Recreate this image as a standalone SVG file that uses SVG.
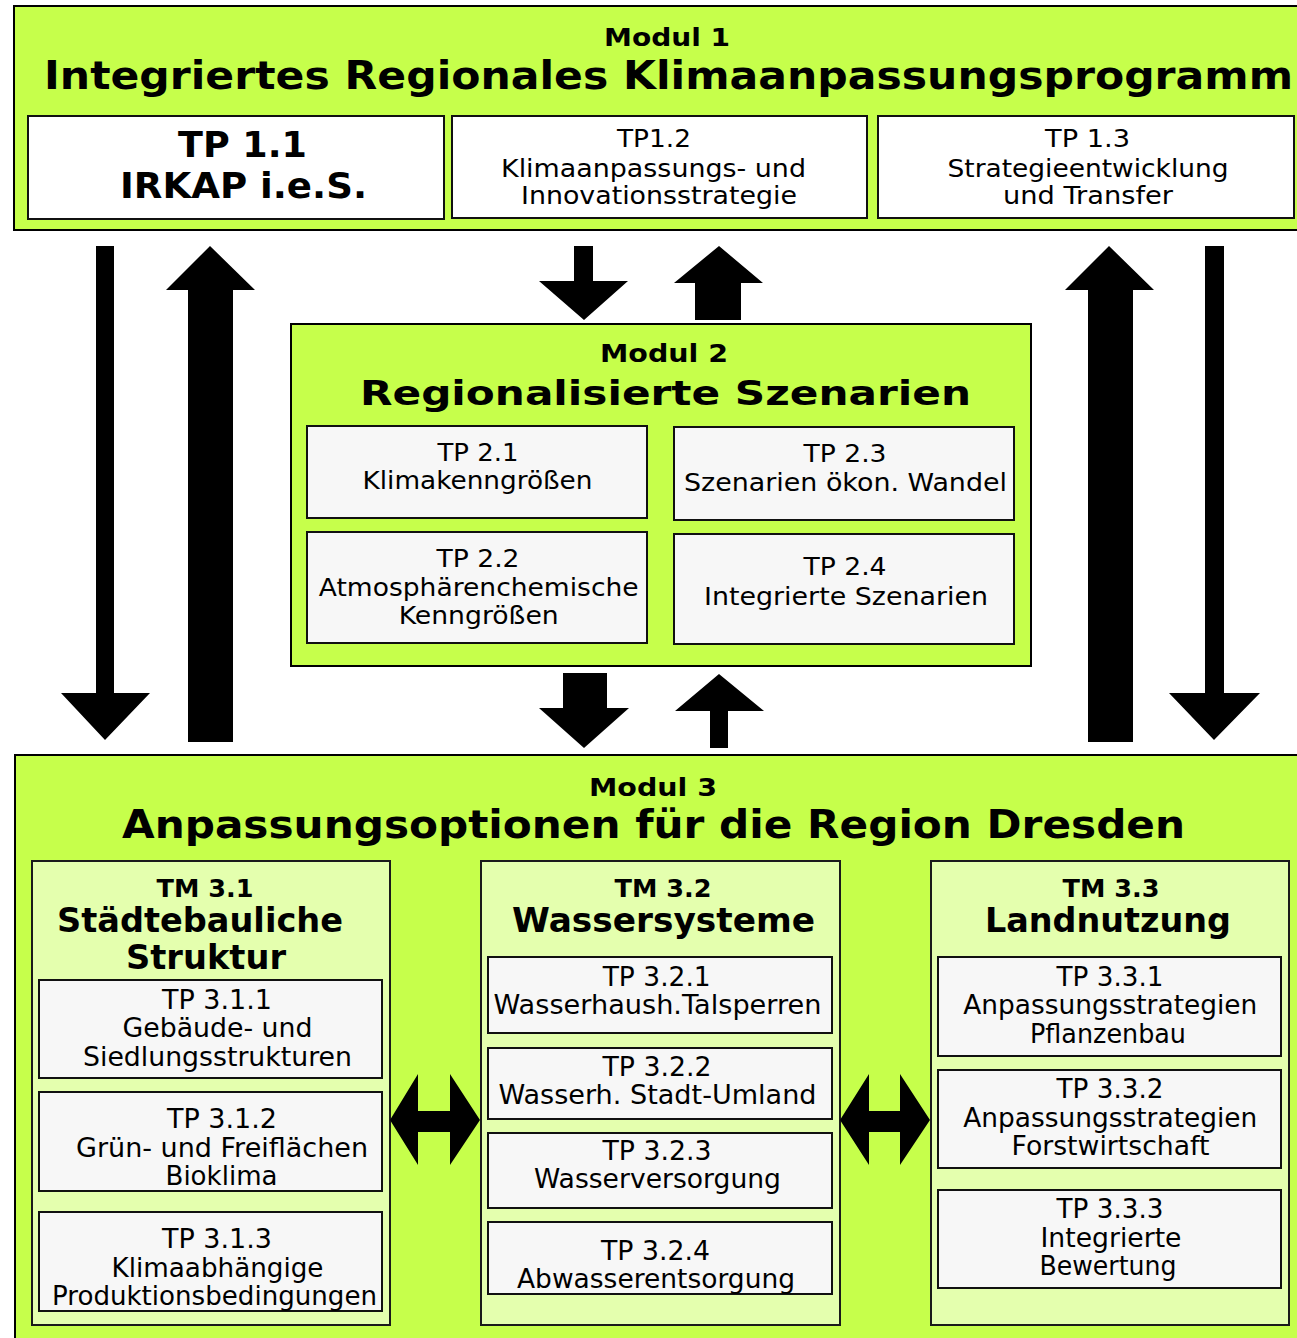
<svg xmlns="http://www.w3.org/2000/svg" width="1297" height="1338" viewBox="0 0 1297 1338">
<style>
.mod{fill:#C6FF4B;stroke:#000;stroke-width:2}
.tm{fill:#E4FFAE;stroke:#1a1a1a;stroke-width:2}
.tpw{fill:#FFFFFF;stroke:#111;stroke-width:2}
.tp{fill:#F7F7F7;stroke:#111;stroke-width:2}
.arr{fill:#000}
text{font-family:"DejaVu Sans","Liberation Sans",sans-serif;fill:#000;text-anchor:middle}
.h1{font-weight:bold;font-size:39px}
.h2{font-weight:bold;font-size:25px}
.hb{font-weight:bold;font-size:35px}
.hm{font-weight:bold;font-size:34px}
.hs{font-weight:bold;font-size:33px}
.t{font-size:25px}
.tc{font-size:26px}
.tn{font-size:24px}
</style>
<rect width="1297" height="1338" fill="#fff"/>

<g id="modul1">
<rect class="mod" x="14" y="6" width="1300" height="224"/>
<text class="h2" x="667" y="46" textLength="126" lengthAdjust="spacingAndGlyphs">Modul 1</text>
<text class="h1" x="668.5" y="89" textLength="1249" lengthAdjust="spacingAndGlyphs">Integriertes Regionales Klimaanpassungsprogramm</text>
</g>
<g id="tp11">
<rect class="tpw" x="28" y="116" width="416" height="103"/>
<text class="hb" x="242.5" y="157" textLength="129" lengthAdjust="spacingAndGlyphs">TP 1.1</text>
<text class="hb" x="243.5" y="198" textLength="247" lengthAdjust="spacingAndGlyphs">IRKAP i.e.S.</text>
</g>
<g id="tp12">
<rect class="tpw" x="452" y="116" width="415" height="102"/>
<text class="t" x="654" y="147" textLength="74" lengthAdjust="spacingAndGlyphs">TP1.2</text>
<text class="t" x="653.5" y="177" textLength="305" lengthAdjust="spacingAndGlyphs">Klimaanpassungs- und</text>
<text class="t" x="659" y="204" textLength="276" lengthAdjust="spacingAndGlyphs">Innovationsstrategie</text>
</g>
<g id="tp13">
<rect class="tpw" x="878" y="116" width="416" height="102"/>
<text class="t" x="1087.5" y="147" textLength="85" lengthAdjust="spacingAndGlyphs">TP 1.3</text>
<text class="t" x="1088" y="177" textLength="281" lengthAdjust="spacingAndGlyphs">Strategieentwicklung</text>
<text class="t" x="1088" y="204" textLength="170" lengthAdjust="spacingAndGlyphs">und Transfer</text>
</g>

<g id="modul2">
<rect class="mod" x="291" y="324" width="740" height="342"/>
<text class="h2" x="664" y="362" textLength="128" lengthAdjust="spacingAndGlyphs">Modul 2</text>
<text class="hm" x="665.5" y="405" textLength="611" lengthAdjust="spacingAndGlyphs">Regionalisierte Szenarien</text>
</g>
<g id="tp21">
<rect class="tp" x="307" y="426" width="340" height="92"/>
<text class="tn" x="478" y="461" textLength="81" lengthAdjust="spacingAndGlyphs">TP 2.1</text>
<text class="tn" x="477.5" y="489" textLength="230" lengthAdjust="spacingAndGlyphs">Klimakenngrößen</text>
</g>
<g id="tp23">
<rect class="tp" x="674" y="427" width="340" height="93"/>
<text class="tn" x="845" y="462" textLength="83" lengthAdjust="spacingAndGlyphs">TP 2.3</text>
<text class="tn" x="845.5" y="491" textLength="323" lengthAdjust="spacingAndGlyphs">Szenarien ökon. Wandel</text>
</g>
<g id="tp22">
<rect class="tp" x="307" y="532" width="340" height="111"/>
<text class="tn" x="478" y="567" textLength="83" lengthAdjust="spacingAndGlyphs">TP 2.2</text>
<text class="tn" x="478.7" y="596" textLength="320" lengthAdjust="spacingAndGlyphs">Atmosphärenchemische</text>
<text class="tn" x="478.7" y="624" textLength="160" lengthAdjust="spacingAndGlyphs">Kenngrößen</text>
</g>
<g id="tp24">
<rect class="tp" x="674" y="534" width="340" height="110"/>
<text class="tn" x="845" y="575" textLength="83" lengthAdjust="spacingAndGlyphs">TP 2.4</text>
<text class="tn" x="846" y="605" textLength="284" lengthAdjust="spacingAndGlyphs">Integrierte Szenarien</text>
</g>

<g id="modul3">
<rect class="mod" x="15" y="755" width="1300" height="600"/>
<text class="h2" x="653" y="796" textLength="128" lengthAdjust="spacingAndGlyphs">Modul 3</text>
<text class="h1" x="653.5" y="838" textLength="1063" lengthAdjust="spacingAndGlyphs">Anpassungsoptionen für die Region Dresden</text>
</g>

<g id="tm31">
<rect class="tm" x="32" y="861" width="358" height="464"/>
<text class="h2" x="205" y="897" textLength="97" lengthAdjust="spacingAndGlyphs">TM 3.1</text>
<text class="hs" x="200" y="932" textLength="286" lengthAdjust="spacingAndGlyphs">Städtebauliche</text>
<text class="hs" x="206" y="969" textLength="160" lengthAdjust="spacingAndGlyphs">Struktur</text>
</g>
<g id="tp311">
<rect class="tp" x="39" y="980" width="343" height="98"/>
<text class="tc" x="217" y="1009" textLength="110" lengthAdjust="spacingAndGlyphs">TP 3.1.1</text>
<text class="tc" x="217.5" y="1037" textLength="190" lengthAdjust="spacingAndGlyphs">Gebäude- und</text>
<text class="tc" x="217.5" y="1066" textLength="269" lengthAdjust="spacingAndGlyphs">Siedlungsstrukturen</text>
</g>
<g id="tp312">
<rect class="tp" x="39" y="1092" width="343" height="99"/>
<text class="tc" x="222" y="1128" textLength="110" lengthAdjust="spacingAndGlyphs">TP 3.1.2</text>
<text class="tc" x="222" y="1157" textLength="292" lengthAdjust="spacingAndGlyphs">Grün- und Freiflächen</text>
<text class="tc" x="221.5" y="1185" textLength="112" lengthAdjust="spacingAndGlyphs">Bioklima</text>
</g>
<g id="tp313">
<rect class="tp" x="39" y="1212" width="343" height="99"/>
<text class="tc" x="217" y="1248" textLength="110" lengthAdjust="spacingAndGlyphs">TP 3.1.3</text>
<text class="tc" x="217.5" y="1277" textLength="212" lengthAdjust="spacingAndGlyphs">Klimaabhängige</text>
<text class="tc" x="214.5" y="1305" textLength="325" lengthAdjust="spacingAndGlyphs">Produktionsbedingungen</text>
</g>

<g id="tm32">
<rect class="tm" x="481" y="861" width="359" height="464"/>
<text class="h2" x="663" y="897" textLength="97" lengthAdjust="spacingAndGlyphs">TM 3.2</text>
<text class="hs" x="663.5" y="932" textLength="303" lengthAdjust="spacingAndGlyphs">Wassersysteme</text>
</g>
<g id="tp321">
<rect class="tp" x="488" y="957" width="344" height="76"/>
<text class="tc" x="656.7" y="986" textLength="108" lengthAdjust="spacingAndGlyphs">TP 3.2.1</text>
<text class="tc" x="657.5" y="1014" textLength="328" lengthAdjust="spacingAndGlyphs">Wasserhaush.Talsperren</text>
</g>
<g id="tp322">
<rect class="tp" x="488" y="1048" width="344" height="71"/>
<text class="tc" x="657" y="1076" textLength="109" lengthAdjust="spacingAndGlyphs">TP 3.2.2</text>
<text class="tc" x="657.5" y="1104" textLength="318" lengthAdjust="spacingAndGlyphs">Wasserh. Stadt-Umland</text>
</g>
<g id="tp323">
<rect class="tp" x="488" y="1133" width="344" height="75"/>
<text class="tc" x="657" y="1160" textLength="109" lengthAdjust="spacingAndGlyphs">TP 3.2.3</text>
<text class="tc" x="657.5" y="1188" textLength="247" lengthAdjust="spacingAndGlyphs">Wasserversorgung</text>
</g>
<g id="tp324">
<rect class="tp" x="488" y="1222" width="344" height="72"/>
<text class="tc" x="655.5" y="1260" textLength="109" lengthAdjust="spacingAndGlyphs">TP 3.2.4</text>
<text class="tc" x="656" y="1288" textLength="278" lengthAdjust="spacingAndGlyphs">Abwasserentsorgung</text>
</g>

<g id="tm33">
<rect class="tm" x="931" y="861" width="358" height="464"/>
<text class="h2" x="1111" y="897" textLength="97" lengthAdjust="spacingAndGlyphs">TM 3.3</text>
<text class="hs" x="1108" y="932" textLength="246" lengthAdjust="spacingAndGlyphs">Landnutzung</text>
</g>
<g id="tp331">
<rect class="tp" x="938" y="957" width="343" height="99"/>
<text class="tc" x="1110" y="986" textLength="107" lengthAdjust="spacingAndGlyphs">TP 3.3.1</text>
<text class="tc" x="1110.3" y="1014" textLength="294" lengthAdjust="spacingAndGlyphs">Anpassungsstrategien</text>
<text class="tc" x="1108" y="1043" textLength="156" lengthAdjust="spacingAndGlyphs">Pflanzenbau</text>
</g>
<g id="tp332">
<rect class="tp" x="938" y="1070" width="343" height="98"/>
<text class="tc" x="1110" y="1098" textLength="107" lengthAdjust="spacingAndGlyphs">TP 3.3.2</text>
<text class="tc" x="1110.3" y="1127" textLength="294" lengthAdjust="spacingAndGlyphs">Anpassungsstrategien</text>
<text class="tc" x="1110.5" y="1155" textLength="198" lengthAdjust="spacingAndGlyphs">Forstwirtschaft</text>
</g>
<g id="tp333">
<rect class="tp" x="938" y="1190" width="343" height="98"/>
<text class="tc" x="1110" y="1218" textLength="107" lengthAdjust="spacingAndGlyphs">TP 3.3.3</text>
<text class="tc" x="1111" y="1247" textLength="141" lengthAdjust="spacingAndGlyphs">Integrierte</text>
<text class="tc" x="1108" y="1275" textLength="137" lengthAdjust="spacingAndGlyphs">Bewertung</text>
</g>

<g id="connectors">
<polygon class="arr" points="96,246 114,246 114,693 150,693 105,740 61,693 96,693"/>
<polygon class="arr" points="188,742 233,742 233,290 255,290 210,246 166,290 188,290"/>
<polygon class="arr" points="574,246 593,246 593,281 628,281 584,320 539,281 574,281"/>
<polygon class="arr" points="695,320 741,320 741,283 763,283 719,246 674,283 695,283"/>
<polygon class="arr" points="1088,742 1133,742 1133,290 1154,290 1109,246 1065,290 1088,290"/>
<polygon class="arr" points="1205,246 1224,246 1224,693 1260,693 1214,740 1169,693 1205,693"/>
<polygon class="arr" points="563,673 607,673 607,708 629,708 584,748 539,708 563,708"/>
<polygon class="arr" points="710,748 728,748 728,711 764,711 719,674 675,711 710,711"/>
<polygon class="arr" points="390,1120 418,1074 418,1111 450,1111 450,1074 480,1120 450,1165 450,1132 418,1132 418,1165"/>
<polygon class="arr" points="840,1120 869,1074 869,1111 900,1111 900,1074 930,1120 900,1165 900,1132 869,1132 869,1165"/>
</g>
</svg>
